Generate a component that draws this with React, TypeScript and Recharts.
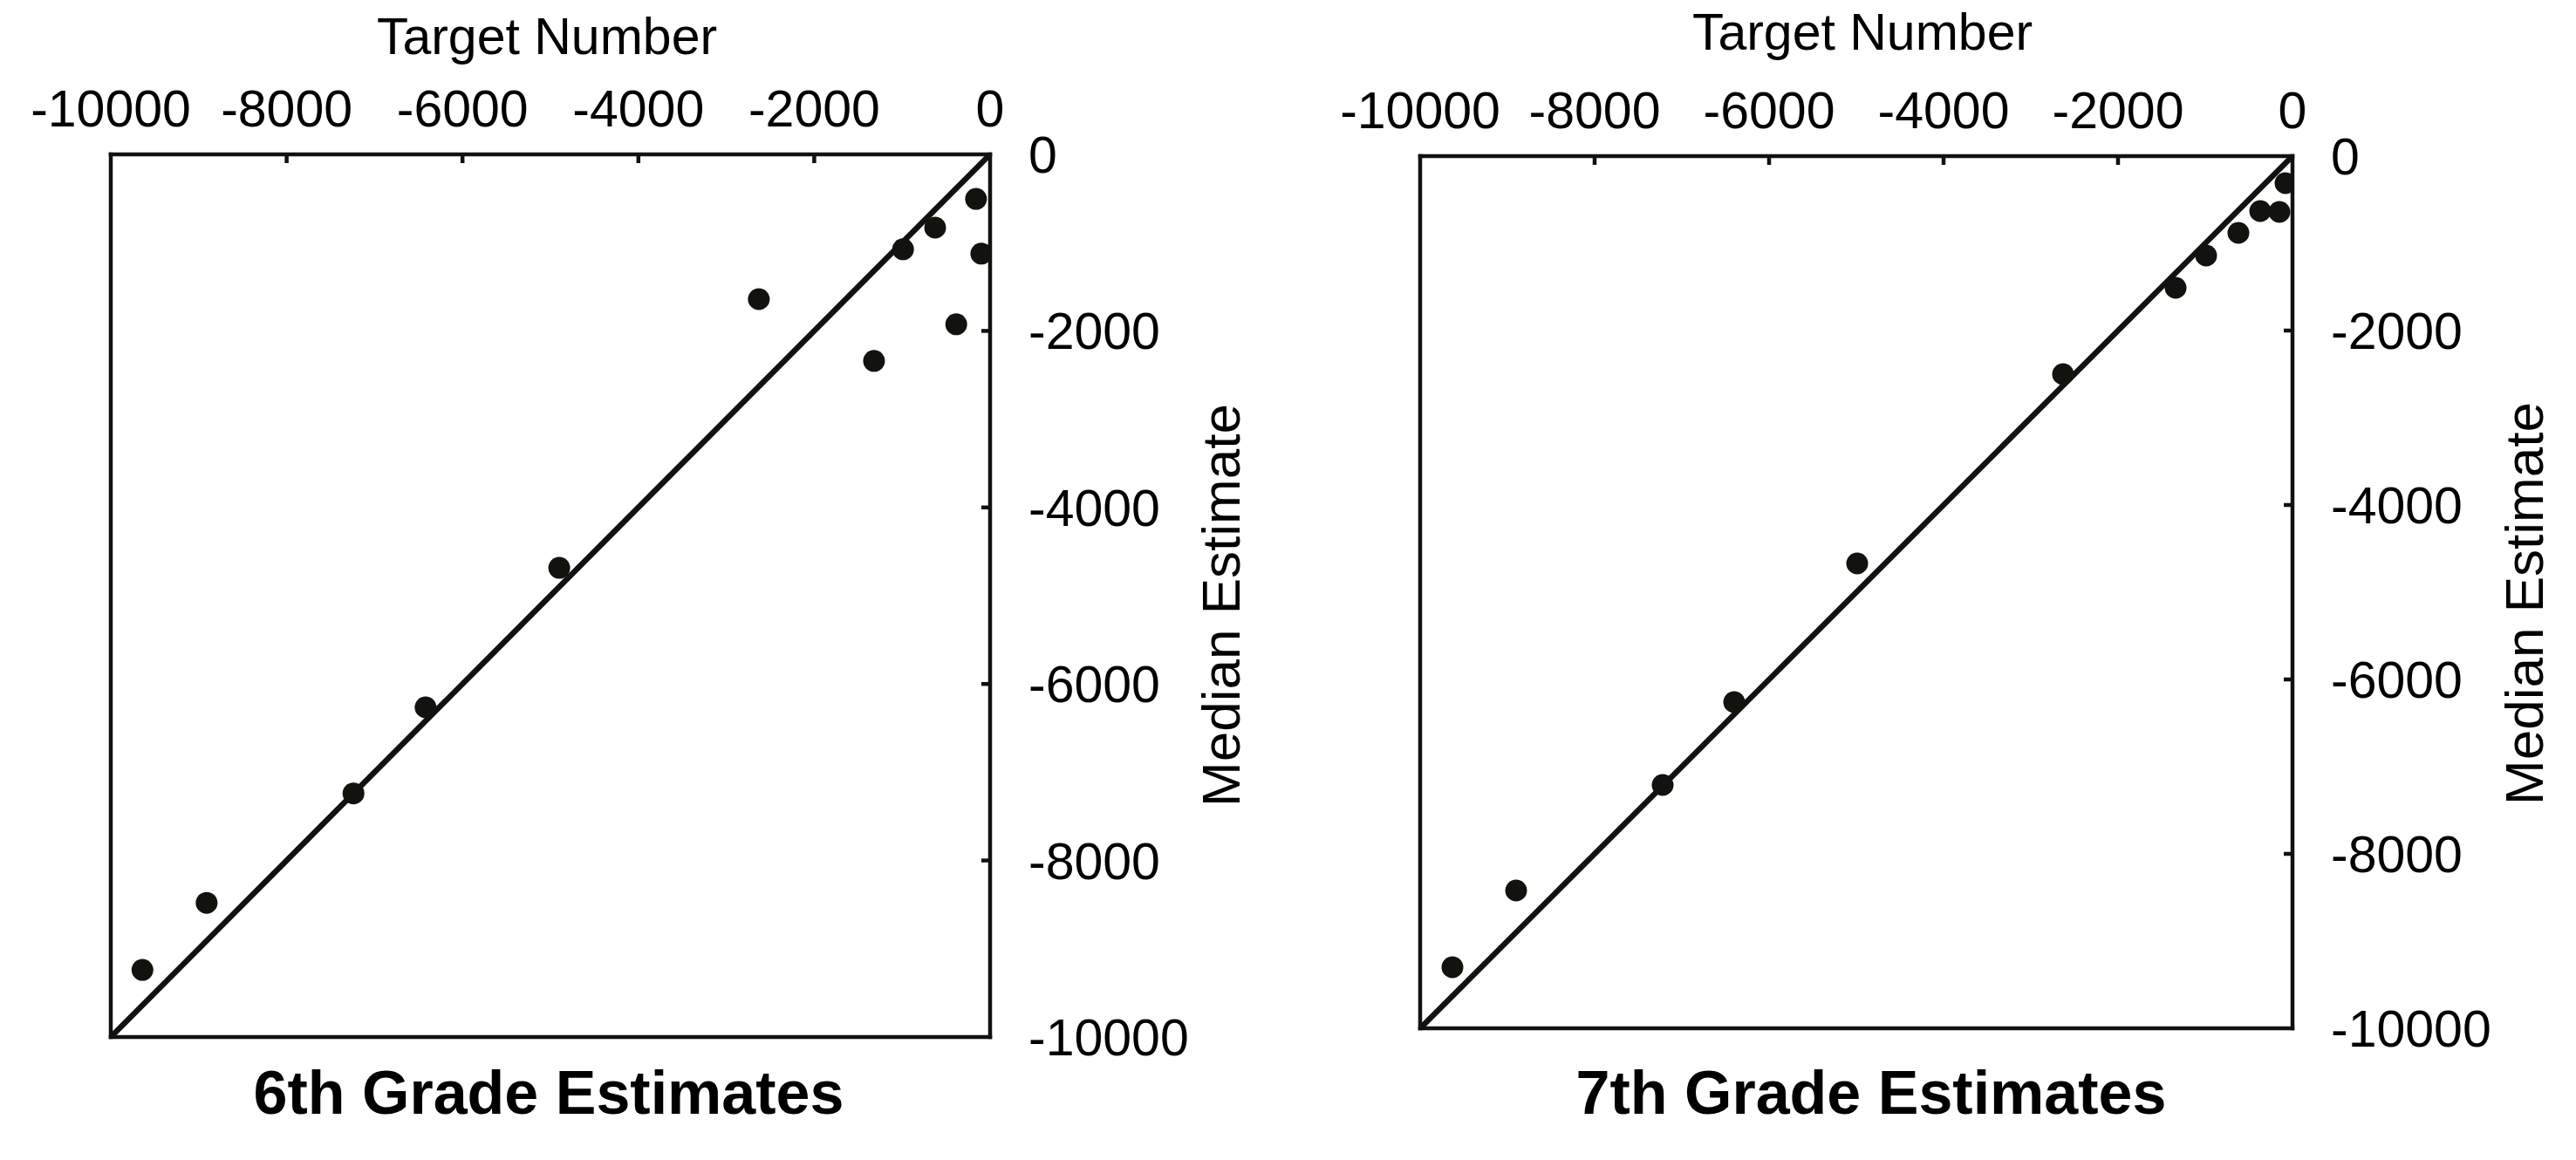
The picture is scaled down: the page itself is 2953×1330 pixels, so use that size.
import React from "react";
import { ScatterChart, Scatter, XAxis, YAxis, ReferenceLine } from "recharts";

// values (target number vs median estimate)
const AXIS_TICKS = [-10000, -8000, -6000, -4000, -2000, 0];
const INNER_TICKS = [-8000, -6000, -4000, -2000];
const AXIS_DOMAIN: [number, number] = [-10000, 0];

const GRADE6_TARGET = [-9640, -8910, -7240, -6420, -4900, -2630, -1320, -990, -625, -385, -160, -100];
const GRADE6_ESTIMATE = [-9240, -8480, -7240, -6265, -4685, -1640, -2340, -1075, -830, -1925, -505, -1125];

const GRADE7_TARGET = [-9630, -8900, -7220, -6400, -4990, -2630, -1340, -990, -620, -370, -150, -80];
const GRADE7_ESTIMATE = [-9300, -8420, -7210, -6260, -4670, -2500, -1510, -1140, -880, -630, -640, -310];

const X_TITLE = "Target Number";
const Y_TITLE = "Median Estimate";
const PANEL_TITLES = ["6th Grade Estimates", "7th Grade Estimates"];

const FONT = '"Liberation Sans", Arial, Helvetica, sans-serif';
const INK = "#111";
const DOT = "#12120e";
const TICK_LEN = 10;

interface PanelLayout {
  left: number;
  width: number;
  height: number;
  plotLeft: number;
  plotRight: number;
  plotTop: number;
  plotBottom: number;
  xTitleX: number;
  xTitleY: number;
  yTitleX: number;
  yTitleY: number;
  titleX: number;
  titleY: number;
}

const LAYOUTS: PanelLayout[] = [
  {
    left: 0, width: 1500, height: 1330,
    plotLeft: 127, plotRight: 1135, plotTop: 177, plotBottom: 1189,
    xTitleX: 627, xTitleY: 62, yTitleX: 1421, yTitleY: 694, titleX: 629, titleY: 1277,
  },
  {
    left: 1500, width: 1453, height: 1330,
    plotLeft: 128, plotRight: 1128, plotTop: 179, plotBottom: 1179,
    xTitleX: 635, xTitleY: 57, yTitleX: 1415, yTitleY: 692, titleX: 645, titleY: 1277,
  },
];

// label elements get cloned by recharts, so positions go in "at" to avoid x/y being overwritten
type At = { x: number; y: number };

function TopTitle({ at, text }: { at: At; text: string }) {
  return (
    <text x={at.x} y={at.y} textAnchor="middle" fontFamily={FONT} fontSize={59} fill="#000">
      {text}
    </text>
  );
}

function SideTitle({ at, text }: { at: At; text: string }) {
  return (
    <text
      x={at.x}
      y={at.y}
      textAnchor="middle"
      transform={`rotate(-90, ${at.x}, ${at.y})`}
      fontFamily={FONT}
      fontSize={62}
      fill="#000"
    >
      {text}
    </text>
  );
}

function BottomTitle({ at, text }: { at: At; text: string }) {
  return (
    <text x={at.x} y={at.y} textAnchor="middle" fontFamily={FONT} fontSize={70} fontWeight="bold" fill="#000">
      {text}
    </text>
  );
}

// top tick: label above the axis plus a short inward mark below it
function TopTick(props: any) {
  const { x, y, payload, edge } = props;
  const inner = INNER_TICKS.includes(payload.value);
  return (
    <g>
      {inner && (
        <line x1={x} x2={x} y1={edge} y2={edge + TICK_LEN} stroke={INK} strokeWidth={4.5} />
      )}
      <text x={x} y={y} textAnchor="middle" fontFamily={FONT} fontSize={59} fill="#000">
        {payload.value}
      </text>
    </g>
  );
}

function RightTick(props: any) {
  const { x, y, payload, edge } = props;
  const inner = INNER_TICKS.includes(payload.value);
  return (
    <g>
      {inner && (
        <line x1={edge - TICK_LEN} x2={edge} y1={y} y2={y} stroke={INK} strokeWidth={4.5} />
      )}
      <text x={x} y={y} dy={21} textAnchor="start" fontFamily={FONT} fontSize={59} fill="#000">
        {payload.value}
      </text>
    </g>
  );
}

const renderDot = (props: any) => <circle cx={props.cx} cy={props.cy} r={12.5} fill={DOT} />;

const boxLine = { stroke: INK, strokeWidth: 4.5, strokeLinecap: "square" as const };

function Panel({
  layout,
  target,
  estimate,
  title,
}: {
  layout: PanelLayout;
  target: number[];
  estimate: number[];
  title: string;
}) {
  const data = target.map((t, i) => ({ target: t, estimate: estimate[i] }));
  const { width, height, plotLeft, plotRight, plotTop, plotBottom } = layout;

  return (
    <div style={{ position: "absolute", left: layout.left, top: 0, width, height }}>
      <ScatterChart width={width} height={height} margin={{ top: 0, right: 0, bottom: 0, left: 0 }}>
        <XAxis
          xAxisId="top"
          orientation="top"
          type="number"
          dataKey="target"
          domain={AXIS_DOMAIN}
          ticks={AXIS_TICKS}
          interval={0}
          allowDataOverflow
          height={plotTop}
          stroke={INK}
          axisLine={boxLine}
          tickLine={false}
          tickSize={10}
          tickMargin={22}
          tick={<TopTick edge={plotTop} />}
          label={<TopTitle at={{ x: layout.xTitleX, y: layout.xTitleY }} text={X_TITLE} />}
        />
        <XAxis
          xAxisId="bottom"
          orientation="bottom"
          type="number"
          domain={AXIS_DOMAIN}
          ticks={AXIS_TICKS}
          allowDataOverflow
          height={height - plotBottom}
          stroke={INK}
          axisLine={boxLine}
          tick={false}
          tickLine={false}
          label={<BottomTitle at={{ x: layout.titleX, y: layout.titleY }} text={title} />}
        />
        <YAxis
          yAxisId="right"
          orientation="right"
          type="number"
          dataKey="estimate"
          domain={AXIS_DOMAIN}
          ticks={AXIS_TICKS}
          interval={0}
          allowDataOverflow
          width={width - plotRight}
          stroke={INK}
          axisLine={boxLine}
          tickLine={false}
          tickSize={10}
          tickMargin={34}
          tick={<RightTick edge={plotRight} />}
          label={<SideTitle at={{ x: layout.yTitleX, y: layout.yTitleY }} text={Y_TITLE} />}
        />
        <YAxis
          yAxisId="left"
          orientation="left"
          type="number"
          domain={AXIS_DOMAIN}
          ticks={AXIS_TICKS}
          allowDataOverflow
          width={plotLeft}
          stroke={INK}
          axisLine={boxLine}
          tick={false}
          tickLine={false}
        />
        <ReferenceLine
          xAxisId="top"
          yAxisId="right"
          segment={[
            { x: AXIS_DOMAIN[0], y: AXIS_DOMAIN[0] },
            { x: AXIS_DOMAIN[1], y: AXIS_DOMAIN[1] },
          ]}
          stroke={INK}
          strokeWidth={6.5}
        />
        <Scatter
          xAxisId="top"
          yAxisId="right"
          data={data}
          shape={renderDot}
          isAnimationActive={false}
        />
      </ScatterChart>
    </div>
  );
}

export default function App() {
  return (
    <div style={{ position: "relative", width: 2953, height: 1330, background: "#fff" }}>
      <style>{"body{margin:0;background:#fff}"}</style>
      <Panel layout={LAYOUTS[0]} target={GRADE6_TARGET} estimate={GRADE6_ESTIMATE} title={PANEL_TITLES[0]} />
      <Panel layout={LAYOUTS[1]} target={GRADE7_TARGET} estimate={GRADE7_ESTIMATE} title={PANEL_TITLES[1]} />
    </div>
  );
}
